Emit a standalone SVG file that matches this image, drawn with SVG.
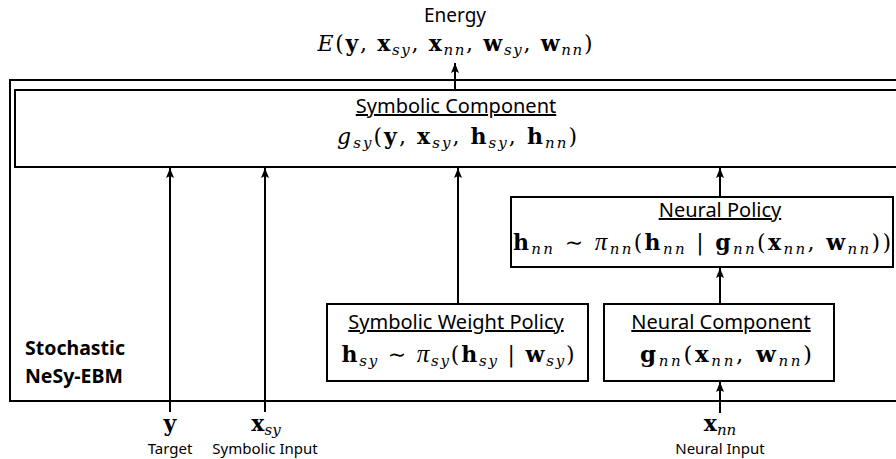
<svg xmlns="http://www.w3.org/2000/svg" width="896" height="459" viewBox="0 0 896 459">
<style>
.box{fill:#fff;stroke:#000;stroke-width:2}
.ln{fill:none;stroke:#000;stroke-width:2}
.lbl{font-family:"Noto Sans","Open Sans",sans-serif;font-size:19px;fill:#000}
.ttl{font-family:"Noto Sans","Open Sans",sans-serif;font-size:20px;fill:#000;text-decoration:underline}
.sm{font-family:"Noto Sans","Open Sans",sans-serif;font-size:15px;fill:#000}
.bl{font-family:"Noto Sans","Open Sans",sans-serif;font-size:19.5px;font-weight:bold;fill:#000}
.m{font-family:"DejaVu Serif","Liberation Serif",serif;font-size:22px;fill:#000}
.b{font-weight:bold}
.i{font-style:italic}
.pi{font-family:"Liberation Serif",serif;font-style:italic;font-size:25px}
.s{font-style:italic;font-size:15px}
</style>
<defs>
<marker id="ah" viewBox="0 0 10 10" refX="10" refY="5" markerWidth="10" markerHeight="10" markerUnits="userSpaceOnUse" orient="auto">
<path d="M0,1 L10,5 L0,9 L2,5 Z" fill="#000"/>
</marker>
</defs>
<rect width="896" height="459" fill="#fff"/>

<g id="outer">
<rect class="box" x="10" y="80" width="900" height="321"/>
<text class="bl" x="25" y="355">Stochastic</text>
<text class="bl" x="25" y="383">NeSy-EBM</text>
</g>

<g id="energy">
<text class="lbl" x="455" y="22" text-anchor="middle">Energy</text>
<text class="m" x="455" y="51" text-anchor="middle" textLength="275" lengthAdjust="spacing"><tspan class="i">E</tspan>(<tspan class="b">y</tspan>, <tspan class="b">x</tspan><tspan class="s" dy="4">sy</tspan><tspan dy="-4">, </tspan><tspan class="b">x</tspan><tspan class="s" dy="4">nn</tspan><tspan dy="-4">, </tspan><tspan class="b">w</tspan><tspan class="s" dy="4">sy</tspan><tspan dy="-4">, </tspan><tspan class="b">w</tspan><tspan class="s" dy="4">nn</tspan><tspan dy="-4">)</tspan></text>
</g>

<g id="symbolic-component">
<rect class="box" x="15" y="90" width="895" height="77"/>
<text class="ttl" x="456" y="113" text-anchor="middle">Symbolic Component</text>
<text class="m" x="457" y="144" text-anchor="middle" textLength="240" lengthAdjust="spacing"><tspan class="i">g</tspan><tspan class="s" dy="4">sy</tspan><tspan dy="-4">(</tspan><tspan class="b">y</tspan>, <tspan class="b">x</tspan><tspan class="s" dy="4">sy</tspan><tspan dy="-4">, </tspan><tspan class="b">h</tspan><tspan class="s" dy="4">sy</tspan><tspan dy="-4">, </tspan><tspan class="b">h</tspan><tspan class="s" dy="4">nn</tspan><tspan dy="-4">)</tspan></text>
</g>

<g id="neural-policy">
<rect class="box" x="511" y="197" width="382" height="70"/>
<text class="ttl" x="720" y="217" text-anchor="middle">Neural Policy</text>
<text class="m" x="702" y="250" text-anchor="middle" textLength="378" lengthAdjust="spacing"><tspan class="b">h</tspan><tspan class="s" dy="4">nn</tspan><tspan dy="-4"> ∼ </tspan><tspan class="pi">π</tspan><tspan class="s" dy="4">nn</tspan><tspan dy="-4">(</tspan><tspan class="b">h</tspan><tspan class="s" dy="4">nn</tspan><tspan dy="-4"> | </tspan><tspan class="b">g</tspan><tspan class="s" dy="4">nn</tspan><tspan dy="-4">(</tspan><tspan class="b">x</tspan><tspan class="s" dy="4">nn</tspan><tspan dy="-4">, </tspan><tspan class="b">w</tspan><tspan class="s" dy="4">nn</tspan><tspan dy="-4">))</tspan></text>
</g>

<g id="symbolic-weight-policy">
<rect class="box" x="327" y="304" width="261" height="77"/>
<text class="ttl" x="456" y="329" text-anchor="middle">Symbolic Weight Policy</text>
<text class="m" x="458" y="362" text-anchor="middle" textLength="233" lengthAdjust="spacing"><tspan class="b">h</tspan><tspan class="s" dy="4">sy</tspan><tspan dy="-4"> ∼ </tspan><tspan class="pi">π</tspan><tspan class="s" dy="4">sy</tspan><tspan dy="-4">(</tspan><tspan class="b">h</tspan><tspan class="s" dy="4">sy</tspan><tspan dy="-4"> | </tspan><tspan class="b">w</tspan><tspan class="s" dy="4">sy</tspan><tspan dy="-4">)</tspan></text>
</g>

<g id="neural-component">
<rect class="box" x="604" y="304" width="230" height="77"/>
<text class="ttl" x="721" y="329" text-anchor="middle">Neural Component</text>
<text class="m" x="726" y="362" text-anchor="middle" textLength="172" lengthAdjust="spacing" style="font-size:23px"><tspan class="b">g</tspan><tspan class="s" dy="4">nn</tspan><tspan dy="-4">(</tspan><tspan class="b">x</tspan><tspan class="s" dy="4">nn</tspan><tspan dy="-4">, </tspan><tspan class="b">w</tspan><tspan class="s" dy="4">nn</tspan><tspan dy="-4">)</tspan></text>
</g>

<g id="inputs">
<text class="m" x="170" y="431" text-anchor="middle"><tspan class="b">y</tspan></text>
<text class="sm" x="170" y="454" text-anchor="middle">Target</text>
<text class="m" x="266" y="431" text-anchor="middle"><tspan class="b">x</tspan><tspan class="s" dy="4">sy</tspan></text>
<text class="sm" x="265" y="454" text-anchor="middle">Symbolic Input</text>
<text class="m" x="720" y="431" text-anchor="middle"><tspan class="b">x</tspan><tspan class="s" dy="4">nn</tspan></text>
<text class="sm" x="720" y="454" text-anchor="middle">Neural Input</text>
</g>

<g id="connectors">
<line class="ln" x1="455" y1="90" x2="455" y2="63" marker-end="url(#ah)"/>
<line class="ln" x1="170" y1="412" x2="170" y2="168" marker-end="url(#ah)"/>
<line class="ln" x1="265" y1="412" x2="265" y2="168" marker-end="url(#ah)"/>
<line class="ln" x1="458" y1="304" x2="458" y2="168" marker-end="url(#ah)"/>
<line class="ln" x1="720" y1="197" x2="720" y2="168" marker-end="url(#ah)"/>
<line class="ln" x1="720" y1="304" x2="720" y2="268" marker-end="url(#ah)"/>
<line class="ln" x1="720" y1="413" x2="720" y2="382" marker-end="url(#ah)"/>
</g>
</svg>
